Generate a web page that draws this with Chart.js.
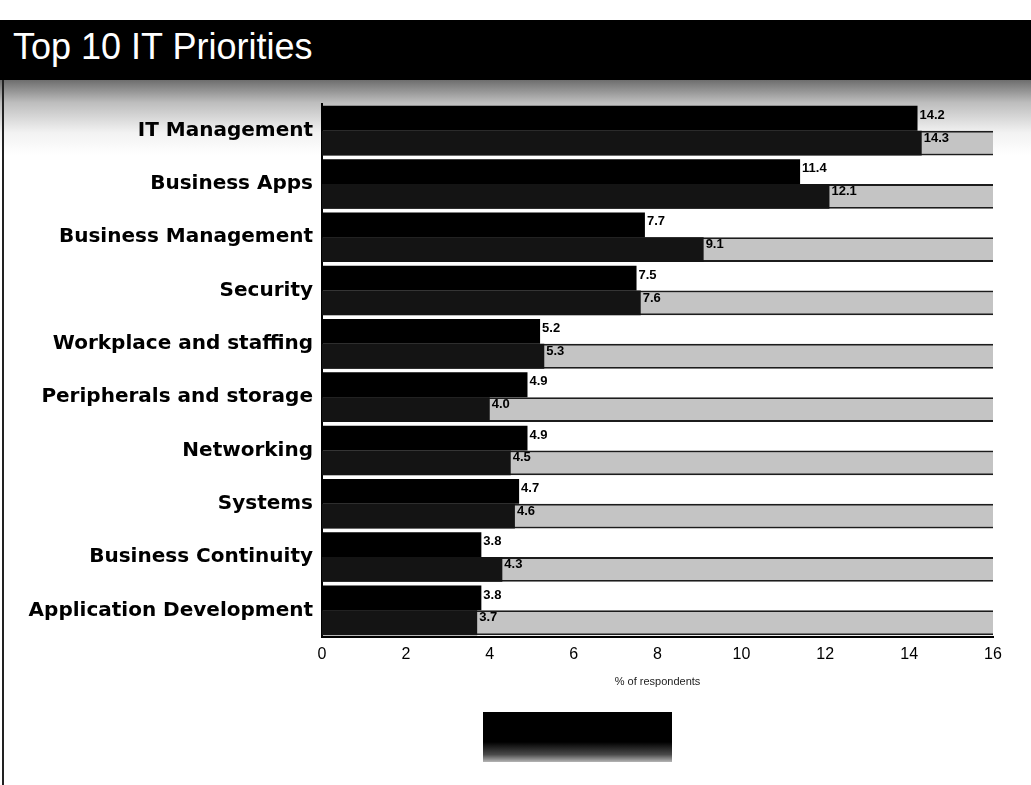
<!DOCTYPE html>
<html>
<head>
<meta charset="utf-8">
<title>Top 10 IT Priorities</title>
<script src="https://cdn.jsdelivr.net/npm/chart.js"></script>
<style>
  body { margin: 0; background: #fff; width: 1031px; height: 785px; overflow: hidden; position: relative; }
  #header { position: absolute; left: 0; top: 20px; width: 1031px; height: 60px; background: #000; }
  #header h1 { margin: 0; position: absolute; left: 13px; top: 9px; color: #fff; font: normal 36px/36px "Liberation Sans", Arial, sans-serif; }
  #haze { position: absolute; left: 0; top: 80px; width: 1031px; height: 75px; background: linear-gradient(#6e6e6e, #bdbdbd 30%, #f2f2f2 70%, #fff); }
  #edge { position: absolute; left: 2px; top: 80px; width: 2px; height: 705px; background: #222; }
  #wrap { position: absolute; left: 0; top: 83px; width: 1031px; height: 702px; }
  #legendBox { position: absolute; left: 483px; top: 712px; width: 189px; height: 50px; background: linear-gradient(#000 60%, #4a4a4a 85%, #b5b5b5); }
</style>
</head>
<body>
<div id="header"><h1>Top 10 IT Priorities</h1></div>
<div id="haze"></div>
<div id="edge"></div>
<div id="wrap"><canvas id="itChart" width="1031" height="702"></canvas></div>
<div id="legendBox"></div>

<script>
// priorities, top to bottom
const categories = [
  "IT Management",
  "Business Apps",
  "Business Management",
  "Security",
  "Workplace and staffing",
  "Peripherals and storage",
  "Networking",
  "Systems",
  "Business Continuity",
  "Application Development",
];

// % of respondents, upper bar / lower bar of each row
const seriesA = [14.2, 11.4, 7.7, 7.5, 5.2, 4.9, 4.9, 4.7, 3.8, 3.8];
const seriesB = [14.3, 12.1, 9.1, 7.6, 5.3, 4.0, 4.5, 4.6, 4.3, 3.7];

const xTicks = [0, 2, 4, 6, 8, 10, 12, 14, 16];
const xMax = 16;

// grey track behind the lower bar runs to the end of the axis
const track = categories.map(() => xMax);

// value labels at the end of the two real series
const barValues = {
  id: "barValues",
  afterDatasetsDraw(chart) {
    const ctx = chart.ctx;
    ctx.save();
    ctx.font = "bold 13px 'Liberation Sans', Arial, sans-serif";
    ctx.fillStyle = "#000";
    ctx.textBaseline = "middle";
    ctx.textAlign = "left";
    [0, 1].forEach((di) => {
      const meta = chart.getDatasetMeta(di);
      const vals = chart.data.datasets[di].data;
      meta.data.forEach((bar, i) => {
        const dy = di === 0 ? -3 : -5;
        ctx.fillText(vals[i].toFixed(1), bar.x + 2, bar.y + dy);
      });
    });
    ctx.restore();
  },
};

let ctx = document.getElementById("itChart").getContext("2d");
let itChart = new Chart(ctx, {
  type: "bar",
  data: {
    labels: categories,
    datasets: [
      {
        label: "A",
        data: seriesA,
        backgroundColor: "#000",
        stack: "a",
        order: 1,
      },
      {
        label: "B",
        data: seriesB,
        backgroundColor: "#141414",
        stack: "b",
        order: 1,
      },
      {
        label: "track",
        data: track,
        backgroundColor: "#c4c4c4",
        borderColor: "#1c1c1c",
        borderWidth: { top: 2, bottom: 2, left: 0, right: 0 },
        borderSkipped: false,
        stack: "b",
        order: 2,
      },
    ],
  },
  options: {
    indexAxis: "y",
    responsive: false,
    animation: false,
    barPercentage: 1,
    categoryPercentage: 0.93,
    layout: { padding: { left: 8, right: 38, top: 15, bottom: 96 } },
    plugins: {
      legend: { display: false },
      tooltip: { enabled: false },
      title: { display: false },
    },
    scales: {
      x: {
        min: 0,
        max: xMax,
        stacked: false,
        grid: { display: false, drawTicks: false },
        border: { display: true, color: "#000", width: 2 },
        afterBuildTicks: (scale) => {
          scale.ticks = xTicks.map((v) => ({ value: v }));
        },
        afterFit: (scale) => {
          scale.height = 52;
        },
        ticks: {
          padding: 8,
          color: "#000",
          font: { family: "'Liberation Sans', Arial, sans-serif", size: 16 },
        },
        title: {
          display: true,
          text: "% of respondents",
          color: "#222",
          padding: { top: 6, bottom: 0 },
          font: { family: "'Liberation Sans', Arial, sans-serif", size: 11 },
        },
      },
      y: {
        grid: { display: false, drawTicks: false },
        border: { display: true, color: "#000", width: 2 },
        afterFit: (scale) => {
          scale.width = 314;
        },
        ticks: {
          padding: 9,
          color: "#000",
          font: { family: "'DejaVu Sans', Verdana, sans-serif", size: 20, weight: "bold" },
        },
      },
    },
  },
  plugins: [barValues],
});
</script>
</body>
</html>
